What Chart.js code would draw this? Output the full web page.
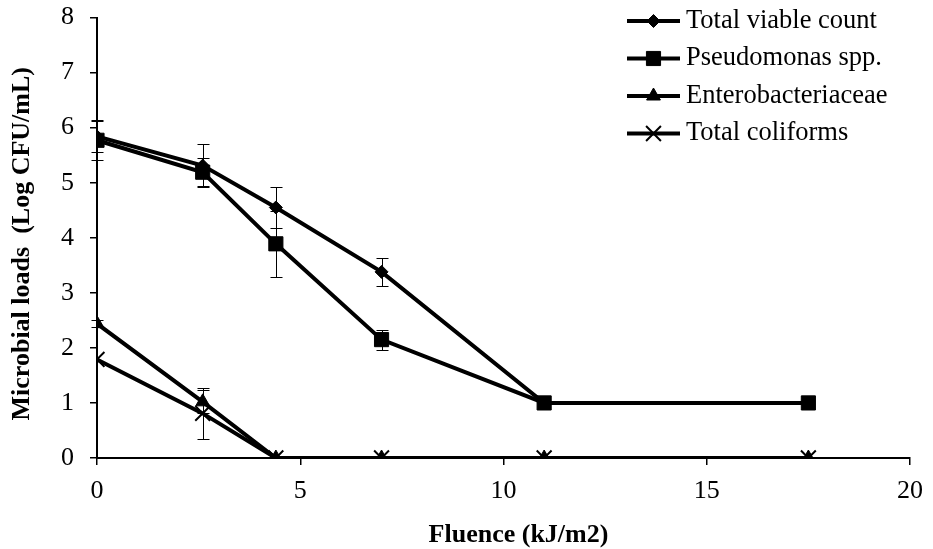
<!DOCTYPE html>
<html>
<head>
<meta charset="utf-8">
<title>Microbial loads vs fluence</title>
<script src="https://cdn.jsdelivr.net/npm/chart.js@4.4.1/dist/chart.umd.min.js"></script>
<style>
  html, body { margin: 0; padding: 0; background: #fff; }
  canvas { display: block; }
</style>
</head>
<body>
<canvas id="grafica" width="933" height="549"></canvas>
<script>
// Fluence levels (kJ/m2)
const fluence = [0, 2.6, 4.4, 7, 11, 17.5];

const seriesNames = ['Total viable count', 'Pseudomonas spp.', 'Enterobacteriaceae', 'Total coliforms'];

// Mean loads (Log CFU/mL) and standard deviations
const tvcMean    = [5.84, 5.31, 4.55, 3.38, 1.0, 1.0];
const tvcSd      = [0.28, 0.39, 0.38, 0.26, 0, 0];
const pseudoMean = [5.77, 5.19, 3.89, 2.15, 1.0, 1.0];
const pseudoSd   = [0.36, 0.25, 0.60, 0.18, 0, 0];
const enteroMean = [2.44, 1.02, 0, 0, 0, 0];
const enteroSd   = [0.06, 0.21, 0, 0, 0, 0];
const coliMean   = [1.79, 0.81, 0, 0, 0, 0];
const coliSd     = [0, 0.47, 0, 0, 0, 0];

const xTicks = [0, 5, 10, 15, 20];
const yTicks = [0, 1, 2, 3, 4, 5, 6, 7, 8];

const xTitle = 'Fluence (kJ/m2)';
const yTitle = 'Microbial loads  (Log CFU/mL)';

const FONT = "'Liberation Serif', 'Times New Roman', serif";

const toPoints = vals => vals.map((v, i) => ({ x: fluence[i], y: v }));

function serie(label, vals, sd, style, radius, order) {
  return {
    label,
    data: toPoints(vals),
    sd,
    borderColor: '#000',
    backgroundColor: '#000',
    borderWidth: 4,
    tension: 0,
    pointStyle: style,
    pointRadius: radius,
    pointHoverRadius: radius,
    pointBackgroundColor: '#000',
    pointBorderColor: '#000',
    pointBorderWidth: style === 'crossRot' ? 2 : 1,
    order
  };
}

const datasets = [
  serie(seriesNames[0], tvcMean, tvcSd, 'rectRot', 6.5, 4),
  serie(seriesNames[1], pseudoMean, pseudoSd, 'rect', 10, 3),
  serie(seriesNames[2], enteroMean, enteroSd, 'triangle', 8, 2),
  serie(seriesNames[3], coliMean, coliSd, 'crossRot', 10.5, 1)
];

// thin vertical error bars with caps, behind the series lines
const errorBars = {
  id: 'errorBars',
  beforeDatasetsDraw(chart) {
    const { ctx, scales: { x, y } } = chart;
    ctx.save();
    ctx.strokeStyle = '#000';
    ctx.lineWidth = 1;
    chart.data.datasets.forEach(ds => {
      (ds.sd || []).forEach((e, i) => {
        if (!e) return;
        const p = ds.data[i];
        const px = Math.round(x.getPixelForValue(p.x)) + 0.5;
        const top = Math.round(y.getPixelForValue(p.y + e)) + 0.5;
        const bot = Math.round(y.getPixelForValue(p.y - e)) + 0.5;
        ctx.beginPath();
        ctx.moveTo(px, top); ctx.lineTo(px, bot);
        ctx.moveTo(px - 6, top); ctx.lineTo(px + 6, top);
        ctx.moveTo(px - 6, bot); ctx.lineTo(px + 6, bot);
        ctx.stroke();
      });
    });
    ctx.restore();
  }
};

// axis titles, drawn by hand so they sit where Excel put them
const axisTitles = {
  id: 'axisTitles',
  afterDraw(chart) {
    const { ctx, chartArea: a } = chart;
    ctx.save();
    ctx.fillStyle = '#000';
    ctx.font = 'bold 26px ' + FONT;
    ctx.textAlign = 'center';
    ctx.textBaseline = 'middle';
    ctx.fillText(xTitle, (a.left + a.right) / 2 + 15, 535);
    ctx.translate(22, (a.top + a.bottom) / 2 + 6);
    ctx.rotate(-Math.PI / 2);
    ctx.fillText(yTitle, 0, 0);
    ctx.restore();
  }
};

// legend with line-through-marker symbols, top right
const lineLegend = {
  id: 'lineLegend',
  afterDraw(chart) {
    const { ctx } = chart;
    const x0 = 627, x1 = 680, tx = 686;
    const rows = [21, 58.5, 96, 133.5];
    ctx.save();
    chart.data.datasets.forEach((ds, i) => {
      const yy = rows[i];
      ctx.strokeStyle = '#000';
      ctx.lineWidth = 4;
      ctx.beginPath();
      ctx.moveTo(x0, yy); ctx.lineTo(x1, yy);
      ctx.stroke();
      ctx.fillStyle = '#000';
      ctx.lineWidth = ds.pointBorderWidth;
      Chart.helpers.drawPoint(ctx, {
        pointStyle: ds.pointStyle,
        radius: ds.pointRadius,
        rotation: 0,
        borderWidth: ds.pointBorderWidth
      }, (x0 + x1) / 2, yy);
      ctx.fillStyle = '#000';
      ctx.font = '26.5px ' + FONT;
      ctx.textAlign = 'left';
      ctx.textBaseline = 'middle';
      ctx.fillText(ds.label, tx, yy);
    });
    ctx.restore();
  }
};

new Chart(document.getElementById('grafica'), {
  type: 'line',
  data: { datasets },
  plugins: [errorBars, axisTitles, lineLegend],
  options: {
    responsive: false,
    animation: false,
    layout: { padding: { left: 0, right: 23, top: 17.5, bottom: 0 } },
    plugins: { legend: { display: false }, tooltip: { enabled: false } },
    scales: {
      x: {
        type: 'linear',
        min: 0,
        max: 20,
        afterBuildTicks: s => { s.ticks = xTicks.map(v => ({ value: v })); },
        afterFit: s => { s.height = 91; s.paddingLeft = 0; s.paddingRight = 0; },
        border: { display: true, color: '#000', width: 2 },
        grid: { display: true, drawOnChartArea: false, drawTicks: true, tickLength: 7, lineWidth: 1.5, color: '#000' },
        ticks: { color: '#000', font: { family: FONT, size: 26 }, padding: 11, maxRotation: 0 }
      },
      y: {
        type: 'linear',
        min: 0,
        max: 8,
        afterBuildTicks: s => { s.ticks = yTicks.map(v => ({ value: v })); },
        afterFit: s => { s.width = 97; s.paddingTop = 0; s.paddingBottom = 0; },
        border: { display: true, color: '#000', width: 2 },
        grid: { display: true, drawOnChartArea: false, drawTicks: true, tickLength: 7, lineWidth: 1.5, color: '#000' },
        ticks: { color: '#000', font: { family: FONT, size: 26 }, padding: 16 }
      }
    }
  }
});
</script>
</body>
</html>
